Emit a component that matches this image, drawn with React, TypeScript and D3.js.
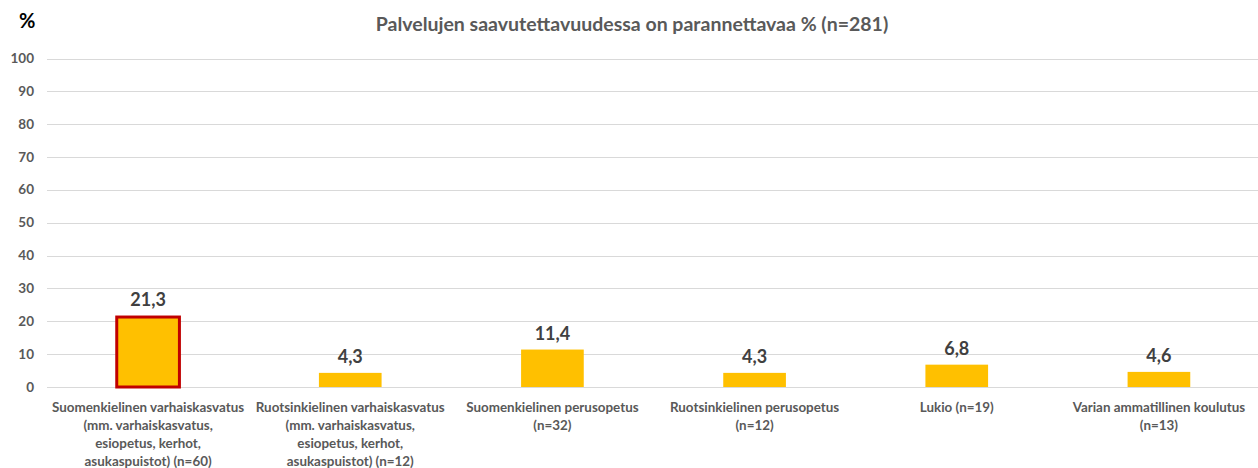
import React, { useEffect, useRef } from 'react'
import * as d3 from 'd3'

const categories = [
  'Suomenkielinen varhaiskasvatus|(mm. varhaiskasvatus,|esiopetus, kerhot,|asukaspuistot) (n=60)',
  'Ruotsinkielinen varhaiskasvatus|(mm. varhaiskasvatus,|esiopetus, kerhot,|asukaspuistot) (n=12)',
  'Suomenkielinen perusopetus|(n=32)',
  'Ruotsinkielinen perusopetus|(n=12)',
  'Lukio (n=19)',
  'Varian ammatillinen koulutus|(n=13)',
]
const values = [21.3, 4.3, 11.4, 4.3, 6.8, 4.6]
const highlighted = [true, false, false, false, false, false]
const yTicks = [0, 10, 20, 30, 40, 50, 60, 70, 80, 90, 100]

const W = 1258
const H = 468
const FONT = 'Lato, "Open Sans", sans-serif'

export default function App() {
  const ref = useRef<SVGSVGElement>(null)

  useEffect(() => {
    const svg = d3.select(ref.current)
    svg.selectAll('*').remove()

    const x = d3.scaleBand<number>()
      .domain(d3.range(categories.length))
      .range([47, 1260])
      .paddingInner(0.69)
      .paddingOuter(0.345)
    const y = d3.scaleLinear().domain([0, 100]).range([387, 58.5])

    // gridlines
    svg.append('g')
      .selectAll('line')
      .data(yTicks)
      .enter()
      .append('line')
      .attr('x1', 47)
      .attr('x2', 1258)
      .attr('y1', d => Math.round(y(d)) + 0.5)
      .attr('y2', d => Math.round(y(d)) + 0.5)
      .attr('stroke', '#d9d9d9')
      .attr('stroke-width', 1)

    // y tick labels
    svg.append('g')
      .selectAll('text')
      .data(yTicks)
      .enter()
      .append('text')
      .attr('x', 34)
      .attr('y', d => y(d) + 4.5)
      .attr('text-anchor', 'end')
      .attr('font-family', FONT)
      .attr('font-weight', 'bold')
      .attr('font-size', 13.5)
      .attr('fill', '#595959')
      .text(d => d)

    // bars
    svg.append('g')
      .selectAll('rect')
      .data(values)
      .enter()
      .append('rect')
      .attr('x', (d, i) => x(i)!)
      .attr('width', x.bandwidth())
      .attr('y', d => y(d))
      .attr('height', d => y(0) - y(d))
      .attr('fill', '#ffc000')
      .attr('stroke', (d, i) => (highlighted[i] ? '#c00000' : 'none'))
      .attr('stroke-width', 3)

    // value labels
    svg.append('g')
      .selectAll('text')
      .data(values)
      .enter()
      .append('text')
      .attr('x', (d, i) => x(i)! + x.bandwidth() / 2)
      .attr('y', (d, i) => y(d) - (highlighted[i] ? 11 : 10))
      .attr('text-anchor', 'middle')
      .attr('font-family', FONT)
      .attr('font-weight', 'bold')
      .attr('font-size', 18)
      .attr('fill', '#404040')
      .text(d => d3.format('.1f')(d).replace('.', ','))

    // category labels
    const cat = svg.append('g')
      .selectAll('text')
      .data(categories)
      .enter()
      .append('text')
      .attr('text-anchor', 'middle')
      .attr('font-family', FONT)
      .attr('font-weight', 'bold')
      .attr('font-size', 13.4)
      .attr('fill', '#595959')
    cat.each(function (d, i) {
      const t = d3.select(this)
      d.split('|').forEach((line, j) => {
        t.append('tspan')
          .attr('x', x(i)! + x.bandwidth() / 2)
          .attr('y', 412 + j * 18)
          .text(line)
      })
    })

    // title
    svg.append('text')
      .attr('x', 632)
      .attr('y', 31)
      .attr('text-anchor', 'middle')
      .attr('font-family', FONT)
      .attr('font-weight', 'bold')
      .attr('font-size', 19.5)
      .attr('fill', '#595959')
      .text('Palvelujen saavutettavuudessa on parannettavaa % (n=281)')

    svg.append('text')
      .attr('x', 19)
      .attr('y', 28)
      .attr('font-family', FONT)
      .attr('font-weight', 'bold')
      .attr('font-size', 20)
      .attr('fill', '#000')
      .text('%')
  }, [])

  return (
    <svg
      ref={ref}
      width={W}
      height={H}
      style={{ position: 'absolute', left: 0, top: 0, background: '#fff' }}
    />
  )
}
